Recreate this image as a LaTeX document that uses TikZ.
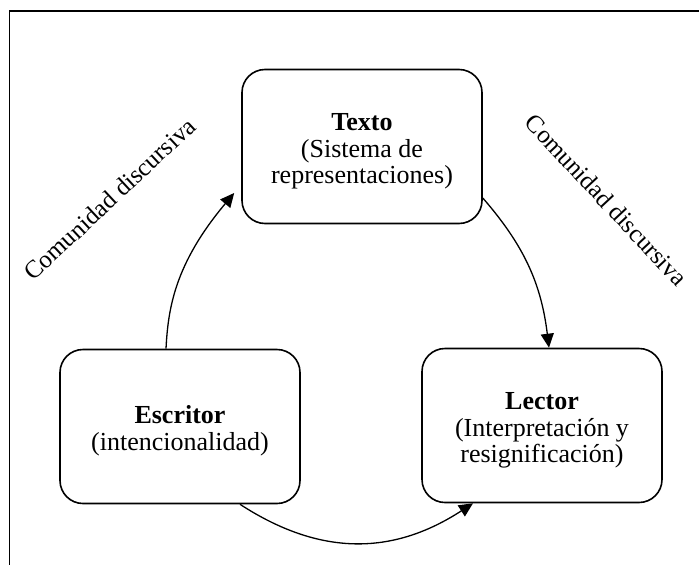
\documentclass[tikz,border=0pt]{standalone}
\usepackage{fontspec}
\setmainfont{Liberation Serif}
\usetikzlibrary{arrows.meta,calc}
% taller first line pushes each box's text block slightly down
\newcommand{\firstline}{\rule{0pt}{27pt}}
\begin{document}
\begin{tikzpicture}[x=1pt,y=1pt,
  stage/.style={draw, line width=1.6pt, rounded corners=23pt,
    minimum width=240pt, minimum height=154pt, inner sep=0pt,
    align=center, font=\fontsize{26}{26.5}\selectfont},
  flow/.style={line width=1.3pt, -{Triangle[length=14pt,width=13pt]}},
  community/.style={inner sep=0pt, font=\fontsize{25}{25}\selectfont}]
  \useasboundingbox (0,0) rectangle (699,-565);
  % outer frame (open towards the right and bottom)
  \draw[line width=1.7pt] (9.5,-575) -- (9.5,-11) -- (710,-11);

  % the three stages
  \node[stage] (txt) at (362,-146.5) {\firstline\textbf{Texto}\\(Sistema de\\representaciones)};
  \node[stage] (esc) at (180,-426.5) {\firstline\textbf{Escritor}\\(intencionalidad)};
  \node[stage] (lec) at (542,-425.5) {\firstline\textbf{Lector}\\(Interpretación y\\resignificación)};

  % cycle of arrows
  \draw[flow] ($(esc.north)+(-14,0)$)
    to[out=87,in=230,out looseness=0.6,in looseness=1.4] ($(txt.west)+(-7,-46.5)$);
  \draw[flow] ($(txt.east)+(0,-51.5)$)
    to[out=-49,in=97] ($(lec.north)+(7,0)$);
  \draw[flow] ($(esc.south)+(60,0)$)
    to[out=-33,in=213,looseness=1.05] ($(lec.south)+(-69,0)$);

  % labels along the upper arcs
  \node[community, rotate=43] (cl) at (109.5,-199) {Comunidad discursiva};
  \node[community, rotate=-47] (cr) at (606.5,-200) {Comunidad discursiva};
\end{tikzpicture}
\end{document}
